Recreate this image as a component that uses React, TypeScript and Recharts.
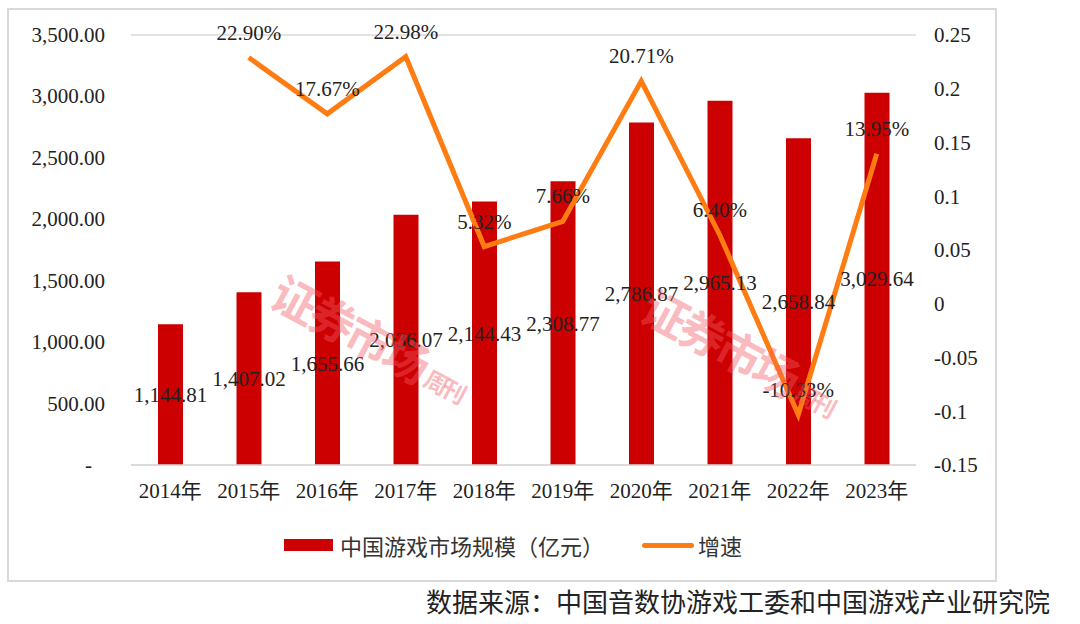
import React from 'react';
import {
  ComposedChart,
  Bar,
  Line,
  XAxis,
  YAxis,
  CartesianGrid,
  Legend,
  LabelList,
} from 'recharts';

const years = ['2014年', '2015年', '2016年', '2017年', '2018年', '2019年', '2020年', '2021年', '2022年', '2023年'];
const marketSize = [1144.81, 1407.02, 1655.66, 2036.07, 2144.43, 2308.77, 2786.87, 2965.13, 2658.84, 3029.64];
const growth = [null, 0.229, 0.1767, 0.2298, 0.0532, 0.0766, 0.2071, 0.064, -0.1033, 0.1395];
const leftTicks = [0, 500, 1000, 1500, 2000, 2500, 3000, 3500];
const rightTicks = [-0.15, -0.1, -0.05, 0, 0.05, 0.1, 0.15, 0.2, 0.25];

const data = years.map((year, i) => ({ year, size: marketSize[i], growth: growth[i] }));

const SERIF = '"Liberation Serif", "Times New Roman", "Noto Sans CJK SC", serif';
const SANS = '"Noto Sans CJK SC", "Noto Sans", sans-serif';
const BAR_COLOR = '#CC0000';
const LINE_COLOR = '#FF7C12';

const fmtMoney = (v: number) =>
  v.toLocaleString('en-US', { minimumFractionDigits: 2, maximumFractionDigits: 2 });

function LeftTick(props: any) {
  const { x, y, payload } = props;
  const v = payload.value as number;
  return (
    <text
      x={v === 0 ? x - 13 : x}
      y={y}
      dy={7}
      textAnchor="end"
      fontSize={21}
      fontFamily={SERIF}
      fill="#222"
    >
      {v === 0 ? '-' : fmtMoney(v)}
    </text>
  );
}

function ChartLegend() {
  return (
    <div
      style={{
        display: 'flex',
        justifyContent: 'center',
        alignItems: 'center',
        height: 34,
        fontFamily: SANS,
        fontSize: 22,
        color: '#333',
        paddingLeft: 22,
      }}
    >
      <span style={{ display: 'inline-block', width: 49, height: 12, background: BAR_COLOR, marginRight: 7 }} />
      <span>中国游戏市场规模（亿元）</span>
      <span
        style={{
          display: 'inline-block',
          width: 52,
          height: 5,
          borderRadius: 3,
          background: LINE_COLOR,
          marginLeft: 38,
          marginRight: 4,
        }}
      />
      <span>增速</span>
    </div>
  );
}

function Stamp({ left, top }: { left: number; top: number }) {
  return (
    <div
      style={{
        position: 'absolute',
        left,
        top,
        transform: 'rotate(28deg)',
        transformOrigin: 'left top',
        color: 'rgba(245, 90, 100, 0.42)',
        fontFamily: SANS,
        fontWeight: 700,
        fontSize: 46,
        letterSpacing: -4,
        whiteSpace: 'nowrap',
        pointerEvents: 'none',
      }}
    >
      证券市场
      <span style={{ fontSize: 24, marginLeft: 6, verticalAlign: 'middle' }}>周刊</span>
    </div>
  );
}

export default function App() {
  return (
    <div style={{ position: 'absolute', left: 0, top: 0, width: 1080, height: 624, background: '#fff', overflow: 'hidden' }}>
      <div
        style={{
          position: 'absolute',
          left: 7,
          top: 8,
          width: 986,
          height: 570,
          border: '2px solid #D9D9D9',
        }}
      >
        <ComposedChart
          width={986}
          height={570}
          data={data}
          margin={{ top: 25, right: 0, left: 0, bottom: 18 }}
        >
          <CartesianGrid vertical={false} stroke="#D9D9D9" strokeWidth={1.5} />
          <XAxis
            dataKey="year"
            height={63}
            tickLine={false}
            axisLine={{ stroke: '#D9D9D9', strokeWidth: 1.5 }}
            tick={{ fontSize: 21, fill: '#222', fontFamily: SERIF }}
            tickMargin={12}
            interval={0}
          />
          <YAxis
            yAxisId="left"
            width={122}
            domain={[0, 3500]}
            ticks={leftTicks}
            axisLine={false}
            tickLine={false}
            tickMargin={20}
            tick={<LeftTick />}
            interval={0}
          />
          <YAxis
            yAxisId="right"
            orientation="right"
            width={79}
            domain={[-0.15, 0.25]}
            ticks={rightTicks}
            axisLine={false}
            tickLine={false}
            tickMargin={12}
            tick={{ fontSize: 21, fill: '#222', fontFamily: SERIF }}
            tickFormatter={(v) => String(Math.round(v * 100) / 100)}
            interval={0}
          />
          <Legend verticalAlign="bottom" content={<ChartLegend />} />
          <Bar yAxisId="left" dataKey="size" name="中国游戏市场规模（亿元）" fill={BAR_COLOR} barSize={25} isAnimationActive={false}>
            <LabelList
              dataKey="size"
              position="center"
              formatter={(v: any) => fmtMoney(Number(v))}
              style={{ fontSize: 21, fill: '#222', fontFamily: SERIF }}
            />
          </Bar>
          <Line
            yAxisId="right"
            type="linear"
            dataKey="growth"
            name="增速"
            stroke={LINE_COLOR}
            strokeWidth={5}
            dot={false}
            activeDot={false}
            isAnimationActive={false}
          >
            <LabelList
              dataKey="growth"
              position="top"
              offset={18}
              formatter={(v: any) => (v == null ? '' : `${(Number(v) * 100).toFixed(2)}%`)}
              style={{ fontSize: 21, fill: '#222', fontFamily: SERIF }}
            />
          </Line>
        </ComposedChart>
      </div>
      <Stamp left={292} top={258} />
      <Stamp left={662} top={272} />
      <div
        style={{
          position: 'absolute',
          right: 30,
          top: 582,
          fontFamily: SANS,
          fontSize: 26,
          color: '#222',
          whiteSpace: 'nowrap',
        }}
      >
        数据来源：中国音数协游戏工委和中国游戏产业研究院
      </div>
    </div>
  );
}
